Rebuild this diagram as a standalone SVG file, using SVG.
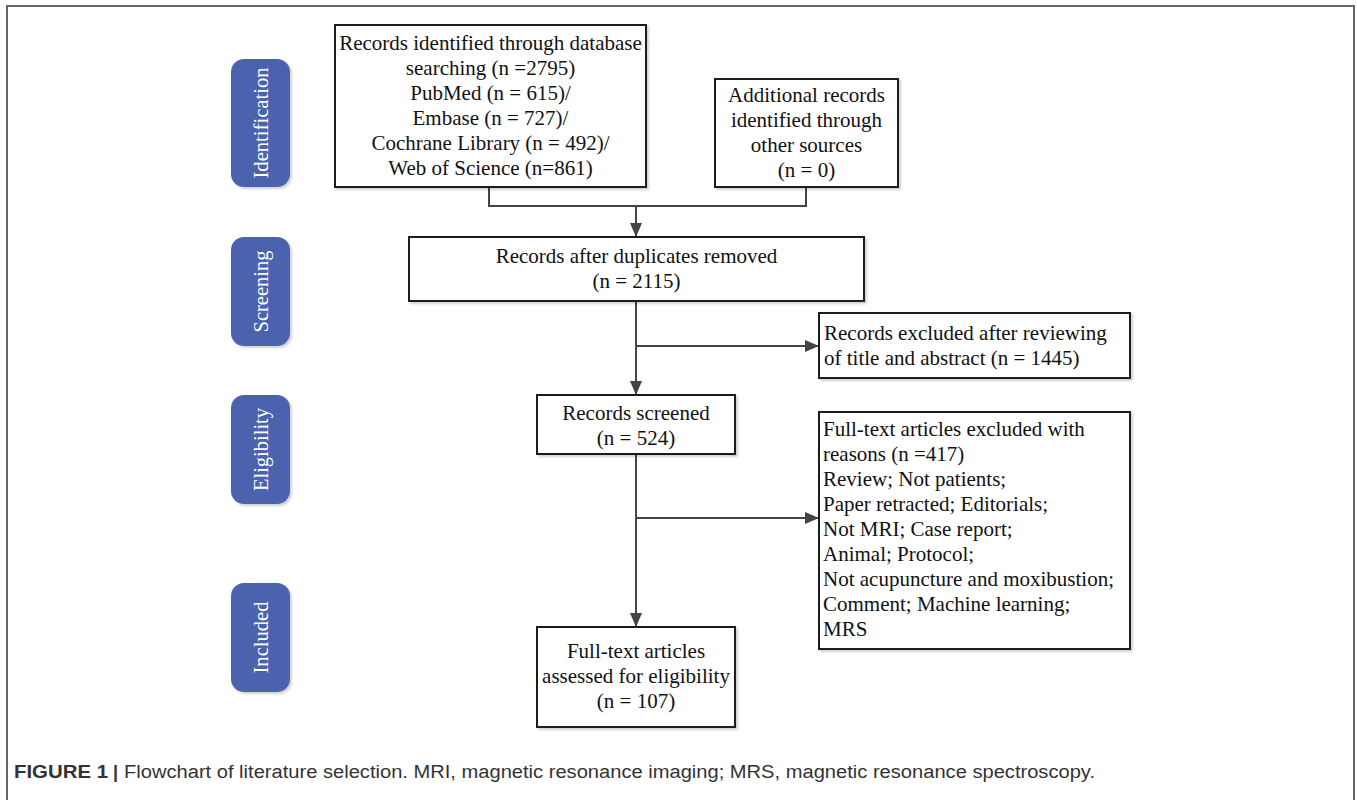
<svg xmlns="http://www.w3.org/2000/svg" width="1357" height="800" viewBox="0 0 1357 800">
<defs>
<marker id="arr" markerUnits="userSpaceOnUse" markerWidth="14" markerHeight="12" refX="14" refY="6" orient="auto">
<path d="M0,0 L14,6 L0,12 Z" fill="#444"/>
</marker>
<filter id="sh" x="-5%" y="-5%" width="115%" height="115%">
<feDropShadow dx="2" dy="2" stdDeviation="1" flood-color="#000" flood-opacity="0.18"/>
</filter>
</defs>
<style>
.box{fill:#fff;stroke:#1e1e1e;stroke-width:2;filter:url(#sh)}
.pill{fill:#4b62ae;filter:url(#sh)}
.t{font-family:"Liberation Serif","Times New Roman",serif;font-size:21px;fill:#111}
.c{text-anchor:middle}
.p{font-family:"Liberation Serif","Times New Roman",serif;font-size:21px;fill:#fff;text-anchor:middle}
.ln{fill:none;stroke:#444;stroke-width:2}
.cap{font-family:"Liberation Sans",Arial,sans-serif;font-size:18px;fill:#333}
</style>
<rect width="1357" height="800" fill="#fff"/>
<path d="M7,810 L7,6 L1354,6 L1354,810" fill="none" stroke="#666" stroke-width="2"/>

<g id="stage-identification">
<rect class="pill" x="231" y="59" width="59" height="128" rx="13"/>
<text class="p" transform="translate(267.5,123) rotate(-90)" textLength="111" lengthAdjust="spacingAndGlyphs">Identification</text>
</g>
<g id="stage-screening">
<rect class="pill" x="231" y="237" width="59" height="109" rx="13"/>
<text class="p" transform="translate(267.5,291.5) rotate(-90)" textLength="82" lengthAdjust="spacingAndGlyphs">Screening</text>
</g>
<g id="stage-eligibility">
<rect class="pill" x="231" y="395" width="59" height="109" rx="13"/>
<text class="p" transform="translate(267.5,449.5) rotate(-90)" textLength="83" lengthAdjust="spacingAndGlyphs">Eligibility</text>
</g>
<g id="stage-included">
<rect class="pill" x="231" y="583" width="59" height="109" rx="13"/>
<text class="p" transform="translate(267.5,637.5) rotate(-90)" textLength="72" lengthAdjust="spacingAndGlyphs">Included</text>
</g>

<g id="connectors">
<path class="ln" d="M489,187 L489,206 L806,206 L806,187"/>
<path class="ln" d="M636,206 L636,237" marker-end="url(#arr)"/>
<path class="ln" d="M636,301 L636,395" marker-end="url(#arr)"/>
<path class="ln" d="M636,346 L819,346" marker-end="url(#arr)"/>
<path class="ln" d="M636,454 L636,627" marker-end="url(#arr)"/>
<path class="ln" d="M636,518 L819,518" marker-end="url(#arr)"/>
</g>

<g id="records-identified">
<rect class="box" x="335" y="25" width="311" height="162"/>
<text class="t c" x="490.5" y="50">Records identified through database</text>
<text class="t c" x="490.5" y="75">searching (n =2795)</text>
<text class="t c" x="490.5" y="100">PubMed (n = 615)/</text>
<text class="t c" x="490.5" y="125">Embase (n = 727)/</text>
<text class="t c" x="490.5" y="150">Cochrane Library (n = 492)/</text>
<text class="t c" x="490.5" y="175">Web of Science (n=861)</text>
</g>

<g id="additional-records">
<rect class="box" x="715" y="79" width="183" height="108"/>
<text class="t c" x="806.5" y="102">Additional records</text>
<text class="t c" x="806.5" y="127">identified through</text>
<text class="t c" x="806.5" y="152">other sources</text>
<text class="t c" x="806.5" y="177">(n = 0)</text>
</g>

<g id="after-duplicates">
<rect class="box" x="409" y="237" width="455" height="64"/>
<text class="t c" x="636.5" y="263">Records after duplicates removed</text>
<text class="t c" x="636.5" y="288">(n = 2115)</text>
</g>

<g id="excluded-title-abstract">
<rect class="box" x="819" y="313" width="311" height="65"/>
<text class="t" x="824" y="340">Records excluded after reviewing</text>
<text class="t" x="824" y="365">of title and abstract (n = 1445)</text>
</g>

<g id="records-screened">
<rect class="box" x="537" y="395" width="198" height="59"/>
<text class="t c" x="636" y="420">Records screened</text>
<text class="t c" x="636" y="445">(n = 524)</text>
</g>

<g id="excluded-reasons">
<rect class="box" x="819" y="412" width="311" height="237"/>
<text class="t" x="823" y="436">Full-text articles excluded with</text>
<text class="t" x="823" y="461">reasons (n =417)</text>
<text class="t" x="823" y="486">Review; Not patients;</text>
<text class="t" x="823" y="511">Paper retracted; Editorials;</text>
<text class="t" x="823" y="536">Not MRI; Case report;</text>
<text class="t" x="823" y="561">Animal; Protocol;</text>
<text class="t" x="823" y="586">Not acupuncture and moxibustion;</text>
<text class="t" x="823" y="611">Comment; Machine learning;</text>
<text class="t" x="823" y="636">MRS</text>
</g>

<g id="full-text-assessed">
<rect class="box" x="537" y="627" width="198" height="100"/>
<text class="t c" x="636" y="658">Full-text articles</text>
<text class="t c" x="636" y="683">assessed for eligibility</text>
<text class="t c" x="636" y="708">(n = 107)</text>
</g>

<g id="caption">
<text class="cap" x="14" y="778" font-weight="bold" fill="#222" textLength="94" lengthAdjust="spacingAndGlyphs">FIGURE 1</text>
<text class="cap" x="113" y="778" font-weight="bold" fill="#222">|</text>
<text class="cap" x="124" y="778" textLength="971" lengthAdjust="spacingAndGlyphs">Flowchart of literature selection. MRI, magnetic resonance imaging; MRS, magnetic resonance spectroscopy.</text>
</g>
</svg>
